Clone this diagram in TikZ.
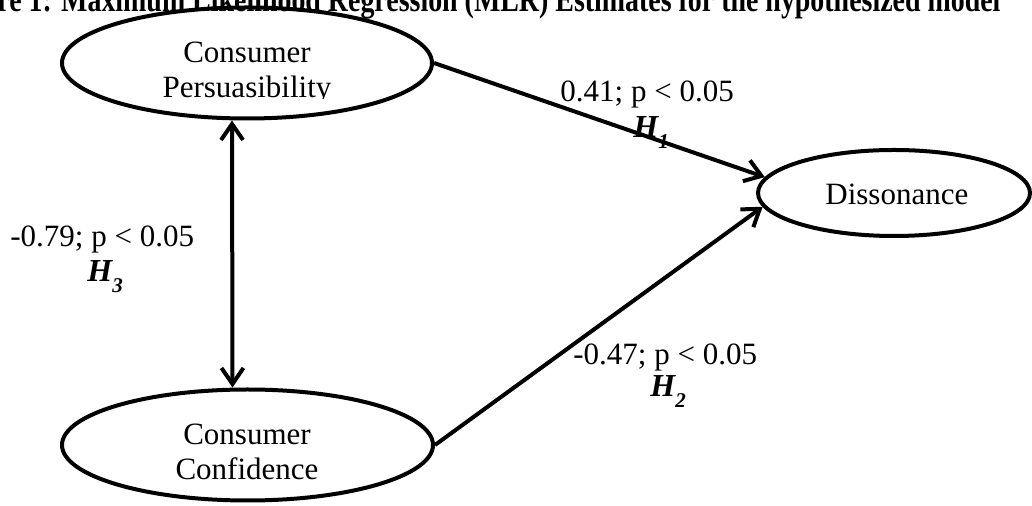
\documentclass[tikz,border=0pt]{standalone}
\usepackage{fontspec}
\setmainfont{Liberation Serif}
\usetikzlibrary{arrows.meta,shapes.geometric}
\newcommand\hypsub[1]{\raisebox{-5.5pt}{\fontsize{10.5}{10.5}\selectfont #1}}
\begin{document}
\begin{tikzpicture}[x=0.5pt,y=-0.5pt,
  lat/.style={draw, ellipse, line width=2pt, inner sep=0pt},
  lbl/.style={font=\fontsize{15.5}{17.5}\selectfont, inner sep=0pt},
  hyp/.style={font=\fontsize{16}{17.5}\selectfont\bfseries\itshape, inner sep=0pt},
  conn/.style={line width=2pt, -{Straight Barb[length=8pt,width=11pt,line width=2pt]}},
  dbl/.style={line width=2pt, {Straight Barb[length=8pt,width=11pt,line width=2pt]}-{Straight Barb[length=8pt,width=11pt,line width=2pt]}}
]
\useasboundingbox (0,0) rectangle (1032,506);
\clip (0,0) rectangle (1032,506);
% title (cut at the top in the reference)
\node[anchor=base west, inner sep=0pt, font=\bfseries] (title) at (-3,11.5)
  {\scalebox{1}[1.25]{\resizebox{501.5pt}{!}{re 1: Maximum Likelihood Regression (MLR) Estimates for the hypothesized model}}};
% latent variables
\node[lat, minimum width=185pt, minimum height=55.5pt] (cp) at (247,63) {};
\node[lat, minimum width=185.5pt, minimum height=55.5pt] (cc) at (247.5,445) {};
\node[lat, minimum width=136pt, minimum height=43pt] (dis) at (894,193) {};
\node[lbl, anchor=base west] (dist) at (825,205) {Dissonance};
\begin{scope}
  \clip (100,20) rectangle (400,98.5);
  \node[lbl, anchor=base] (cp1) at (247,63) {Consumer};
  \node[lbl, anchor=base] (cp2) at (247,98) {Persuasibility};
\end{scope}
\begin{scope}
  \clip (100,400) rectangle (400,480.5);
  \node[lbl, anchor=base] (cc1) at (247,445) {Consumer};
  \node[lbl, anchor=base] (cc2) at (247,480) {Confidence};
\end{scope}
% paths
\draw[conn] (cp.east) -- (dis.173);
\draw[conn] (cc.east) -- (dis.186);
\draw[dbl] ([xshift=-7.5pt]cp.south) -- ([xshift=-7.5pt]cc.north);
% labels
\node[lbl, anchor=base west] (l1) at (560,102) {0.41; p < 0.05};
\node[hyp, anchor=base west] (h1) at (633,138) {H\hypsub{1}};
\node[lbl, anchor=base west] (l3) at (10,247) {-0.79; p < 0.05};
\node[hyp, anchor=base west] (h3) at (87,282) {H\hypsub{3}};
\node[lbl, anchor=base west] (l2) at (573,365) {-0.47; p < 0.05};
\node[hyp, anchor=base west] (h2) at (650,397) {H\hypsub{2}};
\end{tikzpicture}
\end{document}
